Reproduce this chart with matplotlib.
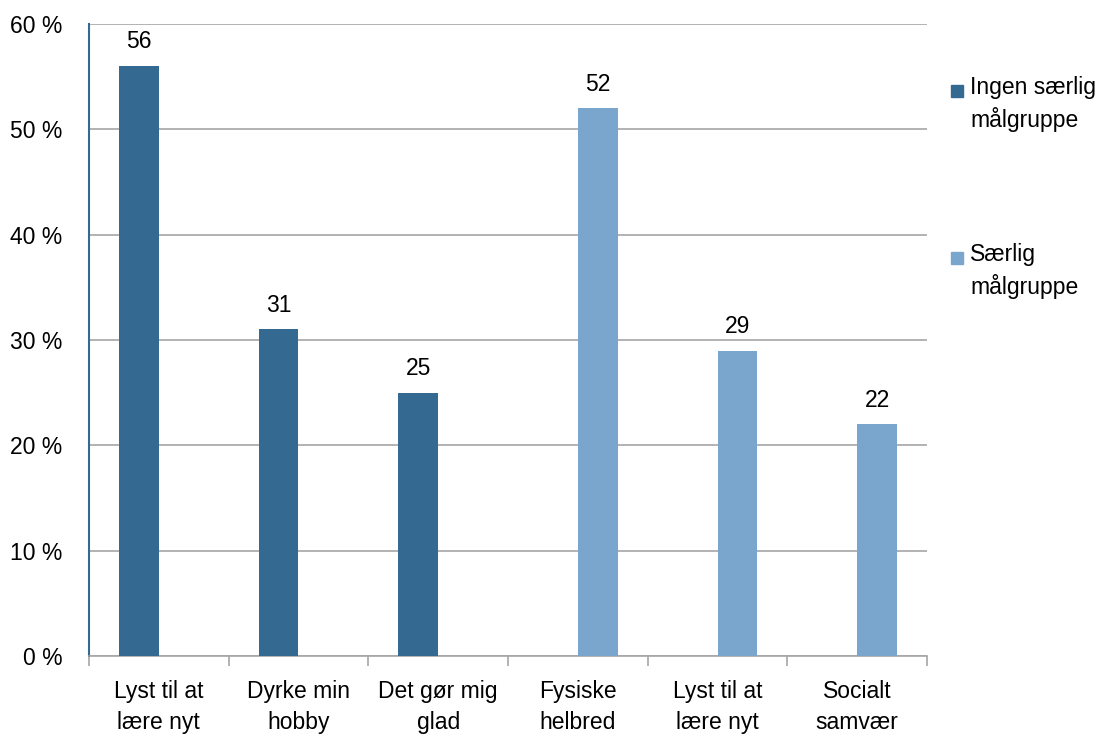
import matplotlib
matplotlib.use("Agg")
import matplotlib.pyplot as plt
import numpy as np
from matplotlib.patches import Rectangle

categories = ["Lyst til at\nlære nyt", "Dyrke min\nhobby", "Det gør mig\nglad",
              "Fysiske\nhelbred", "Lyst til at\nlære nyt", "Socialt\nsamvær"]
series_names = ["Ingen særlig\nmålgruppe", "Særlig\nmålgruppe"]
ingen = [56, 31, 25, 0, 0, 0]
saerlig = [0, 0, 0, 52, 29, 22]
yticks = [0, 10, 20, 30, 40, 50, 60]
colors = ["#346A91", "#7AA6CE"]

FS = 16.5
plt.rcParams['font.family'] = ['Liberation Sans', 'DejaVu Sans']
fig = plt.figure(figsize=(11.04, 7.34), dpi=100)
ax = fig.add_axes([0.0806, 0.1063, 0.8397 - 0.0806, 0.9673 - 0.1063])

x = np.arange(len(categories))
w = 0.285
for vals, off, c in [(ingen, -w / 2, colors[0]), (saerlig, w / 2, colors[1])]:
    bars = ax.bar(x + off, vals, width=w, color=c, zorder=3)
    for b, v in zip(bars, vals):
        if v > 0:
            ax.text(b.get_x() + b.get_width() / 2, v + 1.2, str(v), ha='center', va='bottom',
                    fontsize=FS, color='black')

ax.set_xlim(-0.5, len(categories) - 0.5)
ax.set_ylim(0, 60)
ax.set_yticks(yticks)
ax.set_yticklabels([f"{t} %" for t in yticks], fontsize=FS)
ax.tick_params(axis='y', length=0, pad=19)
ax.yaxis.grid(True, color='#A6A6A6', linewidth=1.2, zorder=0)
ax.set_axisbelow(True)

ax.set_xticks(x)
ax.set_xticklabels(categories, fontsize=FS, linespacing=1.45)
ax.tick_params(axis='x', length=0, pad=17)
ax.set_xticks(np.arange(len(categories) + 1) - 0.5, minor=True)
ax.tick_params(axis='x', which='minor', length=7, color='#A6A6A6', width=1.2)

for s in ['top', 'right']:
    ax.spines[s].set_visible(False)
ax.spines['bottom'].set_color('#A6A6A6')
ax.spines['bottom'].set_linewidth(1.2)
ax.spines['left'].set_color('#346A91')
ax.spines['left'].set_linewidth(1.5)

# legend
leg_y = [1 - 91 / 734, 1 - 258 / 734]
for name, c, ly in zip(series_names, colors, leg_y):
    fig.patches.append(Rectangle((951 / 1104, ly - 6 / 734), 12 / 1104, 12 / 734,
                                 transform=fig.transFigure, color=c))
    fig.text(970 / 1104, ly + 15 / 734, name, fontsize=FS, va='top', ha='left', linespacing=1.4)

fig.savefig("out.png", dpi=100)
